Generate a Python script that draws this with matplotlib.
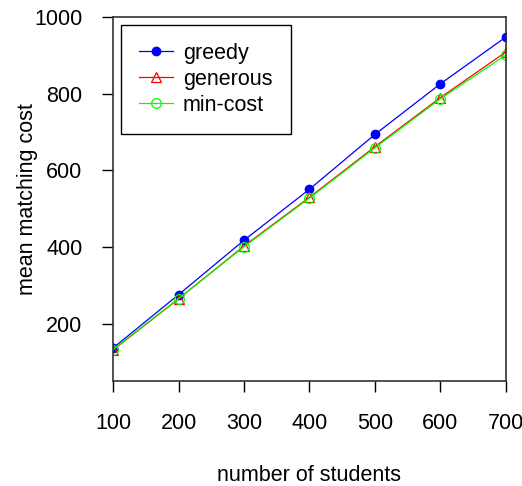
import numpy as np
import matplotlib.pyplot as plt

plt.rcParams['font.family'] = ['Liberation Sans', 'DejaVu Sans']

students = [100, 200, 300, 400, 500, 600, 700]
greedy = [137, 276, 418, 551, 694, 826, 948]
generous = [132, 265, 403, 530, 662, 790, 909]
min_cost = [133, 266, 401, 528, 659, 787, 901]
yticks = [200, 400, 600, 800, 1000]

fs = 15.5

fig = plt.figure(figsize=(5.22, 4.86), dpi=100)
ax = fig.add_axes([0.2165, 0.216, 0.7528, 0.749])

ax.plot(students, greedy, color='blue', lw=0.9, marker='o', ms=6,
        mfc='blue', mec='blue', label='greedy')
ax.plot(students, generous, color='red', lw=0.9, marker='^', ms=7.5,
        mfc='none', mec='red', mew=0.9, label='generous')
ax.plot(students, min_cost, color='#00ff00', lw=0.9, marker='o', ms=7,
        mfc='none', mec='#00ff00', mew=0.9, label='min-cost')

ax.set_xlim(100, 700)
ax.set_ylim(51, 1000)
ax.set_xticks(students)
ax.set_yticks(yticks)
ax.tick_params(direction='out', length=8, width=1, labelsize=fs)
ax.tick_params(axis='x', pad=15)
ax.tick_params(axis='y', pad=14)
for s in ax.spines.values():
    s.set_linewidth(1.2)
    s.set_color('#333333')

ax.set_xlabel('number of students', fontsize=fs, labelpad=22)
ax.set_ylabel('mean matching cost', fontsize=fs, labelpad=-3)

leg = ax.legend(loc='upper left', fontsize=fs, fancybox=False, edgecolor='black',
                framealpha=1, borderaxespad=0.35, handlelength=1.6, handletextpad=0.45,
                labelspacing=0.23, borderpad=0.85)
leg.get_frame().set_linewidth(1.0)

fig.savefig('out.png', dpi=100)
